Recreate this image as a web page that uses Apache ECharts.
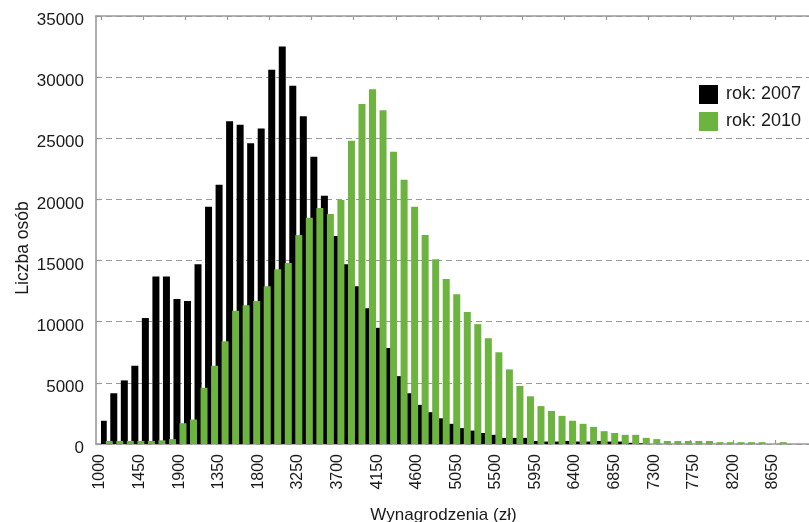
<!DOCTYPE html>
<html>
<head>
<meta charset="utf-8">
<script src="https://cdn.jsdelivr.net/npm/echarts@6/dist/echarts.min.js"></script>
<style>
html,body{margin:0;padding:0;background:#fff;}
#chart{width:809px;height:522px;}
</style>
</head>
<body>
<div id="chart"></div>
<script>
// Bins (category slots) of the histogram
const categories = ['1','2','3','4','5','6','7','8','9','10','11','12','13','14','15','16','17','18','19','20',
  '21','22','23','24','25','26','27','28','29','30','31','32','33','34','35','36','37','38','39','40',
  '41','42','43','44','45','46','47','48','49','50','51','52','53','54','55','56','57','58','59','60',
  '61','62','63','64','65','66','67','68'];

// Tick labels as printed on the x axis
const xTickLabels = ['1000','1450','1900','1350','1800','3250','3700','4150','4600','5050',
  '5500','5950','6400','6850','7300','7750','8200','8650'];

const seriesNames = ['rok: 2007', 'rok: 2010'];

const values2007 = [1900,4150,5200,6400,10300,13700,13700,11850,11700,14700,
  19400,21200,26400,26100,24600,25800,30600,32500,29300,26800,
  23500,20300,17000,14700,12900,11100,9500,7850,5550,4150,
  3200,2600,2100,1650,1300,1100,900,750,500,500,
  500,250,200,200,250,200,200,250,200,200,
  100,50,0,0,0,0,0,0,0,0,
  0,0,0,0,0,null,null,null];

const values2010 = [250,250,250,250,250,300,400,1700,2000,4600,
  6400,8400,10900,11350,11700,12900,14300,14800,17100,18500,
  19300,18800,19950,24800,27800,29000,27300,23900,21600,19400,
  17100,15100,13500,12250,10800,9800,8650,7500,6100,4750,
  3900,3100,2700,2300,1900,1650,1400,1050,900,750,
  750,500,400,250,250,250,250,250,150,150,
  150,150,150,0,150,null,null,null];

const FONT = 'Liberation Sans';
const TXT = '#1a1a1a';
const AXIS = '#9a9a9a';

const chart = echarts.init(document.getElementById('chart'), null, {renderer: 'canvas'});
chart.setOption({
  animation: false,
  backgroundColor: '#fff',
  textStyle: {fontFamily: FONT},
  legend: {
    orient: 'vertical',
    left: 699, top: 85, padding: 0,
    itemWidth: 19, itemHeight: 19, itemGap: 8,
    icon: 'rect',
    textStyle: {fontFamily: FONT, fontSize: 18, color: TXT, padding: [0, 0, 0, 3]},
    data: seriesNames
  },
  grid: [
    {left: 96, right: 0, top: 16, bottom: 78, outerBoundsMode: 'none', containLabel: false},
    {left: 101, right: -8, top: 16, bottom: 78, outerBoundsMode: 'none', containLabel: false},
    {left: 100, right: 36, top: 16, bottom: 78, outerBoundsMode: 'none', containLabel: false}
  ],
  xAxis: [
    // frame lines (grid 0)
    {gridIndex: 0, type: 'value', min: 0, max: 1, position: 'bottom',
     axisLine: {show: true, lineStyle: {color: AXIS, width: 1.6}},
     axisTick: {show: false}, axisLabel: {show: false}, splitLine: {show: false},
     name: 'Wynagrodzenia (zł)', nameLocation: 'middle', nameGap: 63,
     nameTextStyle: {fontFamily: FONT, fontSize: 17, color: TXT, padding: [0, 18, 0, 0]}},
    {gridIndex: 0, type: 'value', min: 0, max: 1, position: 'top',
     axisLine: {show: true, lineStyle: {color: AXIS, width: 1.6}},
     axisTick: {show: false}, axisLabel: {show: false}, splitLine: {show: false}},
    // category axes for bars (grid 1)
    {gridIndex: 1, type: 'category', data: categories, position: 'bottom', boundaryGap: true,
     axisLine: {show: false},
     axisTick: {show: true, inside: true, length: 4, interval: 3, lineStyle: {color: AXIS, width: 1.2}},
     axisLabel: {show: false}},
    {gridIndex: 1, type: 'category', data: categories, position: 'top', boundaryGap: true,
     axisLine: {show: false},
     axisTick: {show: true, inside: true, length: 4, interval: 3, lineStyle: {color: AXIS, width: 1.2}},
     axisLabel: {show: false}},
    // tick label axis (grid 2)
    {gridIndex: 2, type: 'category', data: xTickLabels, position: 'bottom', boundaryGap: false,
     axisLine: {show: false}, axisTick: {show: false},
     axisLabel: {show: true, interval: 0, rotate: 90, margin: 10, fontFamily: FONT, fontSize: 16, color: TXT}}
  ],
  yAxis: [
    {gridIndex: 0, type: 'value', min: 0, max: 35000, interval: 5000,
     axisLine: {show: true, lineStyle: {color: AXIS, width: 1.6}},
     axisTick: {show: true, inside: true, length: 5, lineStyle: {color: AXIS, width: 1.2}},
     axisLabel: {fontFamily: FONT, fontSize: 17, color: TXT, margin: 12,
       verticalAlign: 'top', verticalAlignMinLabel: 'top', verticalAlignMaxLabel: 'top',
       lineHeight: 9,
       formatter: function (v) { return String(v); }},
     splitLine: {show: true, lineStyle: {color: AXIS, width: 1.2, type: [6, 4]}},
     name: 'Liczba osób', nameLocation: 'middle', nameGap: 64, nameMoveOverlap: false,
     nameTextStyle: {fontFamily: FONT, fontSize: 17.5, color: TXT, padding: [0, 36, 0, 0]}},
    {gridIndex: 1, type: 'value', min: 0, max: 35000, interval: 5000, show: false},
    {gridIndex: 2, type: 'value', min: 0, max: 35000, interval: 5000, show: false}
  ],
  series: [
    {name: seriesNames[0], type: 'bar', xAxisIndex: 2, yAxisIndex: 1, data: values2007,
     barWidth: 7, barGap: '-14%', itemStyle: {color: '#000000'}},
    {name: seriesNames[1], type: 'bar', xAxisIndex: 2, yAxisIndex: 1, data: values2010,
     barWidth: 7, barGap: '-14%', itemStyle: {color: '#6db33f'}}
  ]
});
</script>
</body>
</html>
